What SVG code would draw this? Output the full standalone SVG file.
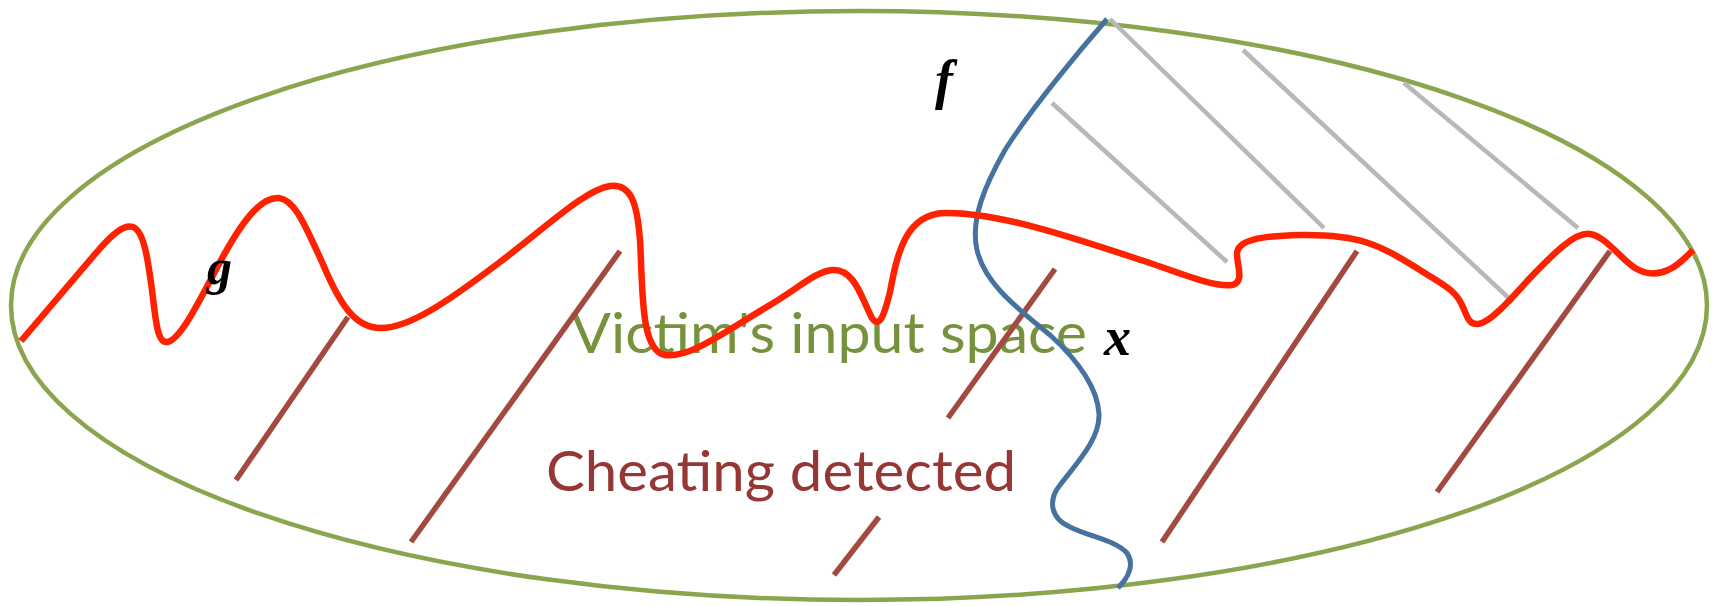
<svg xmlns="http://www.w3.org/2000/svg" width="1721" height="606" viewBox="0 0 1721 606">
<style>
.space{fill:none;stroke:#8AA54E;stroke-width:4.5}
.lbl{font-family:Lato,"Open Sans","Liberation Sans",sans-serif;font-size:56px}
.math{font-family:"Liberation Serif","Times New Roman",serif;font-style:italic;font-weight:bold;fill:#000}
.red{fill:none;stroke:#FF2200;stroke-width:6.5;stroke-linejoin:round}
.blue{fill:none;stroke:#45729F;stroke-width:5}
.gray{stroke:#B8B8B8;stroke-width:4.5}
.brown{stroke:#A24A40;stroke-width:5.5}
</style>
<rect width="1721" height="606" fill="#fff"/>
<g id="input-space">
<ellipse class="space" cx="859" cy="305.5" rx="848" ry="294.5"/>
<text class="lbl" x="571" y="353" fill="#76923C" textLength="516" lengthAdjust="spacingAndGlyphs">Victim's input space</text>
<text class="lbl" x="546" y="491" fill="#953735" textLength="470" lengthAdjust="spacingAndGlyphs">Cheating detected</text>
</g>
<g id="connectors">
<g id="gray-hatch">
<line class="gray" x1="1052" y1="103" x2="1227" y2="262"/>
<line class="gray" x1="1110" y1="19" x2="1324" y2="228"/>
<line class="gray" x1="1243" y1="50" x2="1513" y2="302"/>
<line class="gray" x1="1404" y1="83" x2="1578" y2="228"/>
</g>
<g id="brown-hatch">
<line class="brown" x1="236" y1="480" x2="348" y2="317"/>
<line class="brown" x1="411" y1="542" x2="620" y2="251"/>
<line class="brown" x1="834" y1="575" x2="879" y2="517"/>
<line class="brown" x1="948" y1="418" x2="1055" y2="269"/>
<line class="brown" x1="1162" y1="542" x2="1357" y2="251"/>
<line class="brown" x1="1437" y1="492" x2="1610" y2="251"/>
</g>
<path id="curve-f" class="blue" d="M 1107 19 C 1080 50, 1030 110, 1005 150 C 985 185, 970 220, 977 250 C 985 285, 1020 310, 1050 335 C 1080 362, 1098 390, 1099 414 C 1100 440, 1075 465, 1060 485 C 1048 500, 1050 518, 1070 527 C 1090 537, 1115 540, 1127 553 C 1135 565, 1128 578, 1118 588"/>
<path id="curve-g" class="red" d="M 21 341 L 96 253 C 112 234, 124 224, 133 227 C 144 231, 148 260, 152 290 C 156 325, 158 343, 167 342 C 180 341, 200 300, 220 262 C 240 225, 260 196, 279 198 C 295 200, 305 225, 322 262 C 340 305, 355 328, 381 328 C 410 328, 450 300, 500 262 C 550 224, 585 190, 610 186 C 630 184, 637 200, 640 240 C 643 290, 640 350, 665 355 C 690 358, 720 335, 770 305 C 800 287, 815 272, 832 270 C 855 268, 862 300, 872 318 C 880 330, 885 312, 890 292 C 897 255, 905 214, 945 213 C 1000 212, 1080 240, 1150 263 C 1190 277, 1215 287, 1232 285 C 1245 282, 1237 266, 1237 254 C 1237 240, 1260 236, 1300 235 C 1360 234, 1380 245, 1420 270 C 1445 286, 1455 290, 1462 305 C 1467 315, 1468 325, 1478 324 C 1490 323, 1510 300, 1530 278 C 1555 252, 1575 232, 1590 234 C 1605 236, 1620 258, 1635 268 C 1645 274, 1655 276, 1668 270 C 1678 266, 1685 258, 1693 250"/>
</g>
<g id="label-f"><text class="math" x="935" y="98" font-size="54">f</text></g>
<g id="label-g"><text class="math" x="207" y="284" font-size="50">g</text></g>
<g id="label-x"><text class="math" x="1104" y="355" font-size="54">x</text></g>
</svg>
